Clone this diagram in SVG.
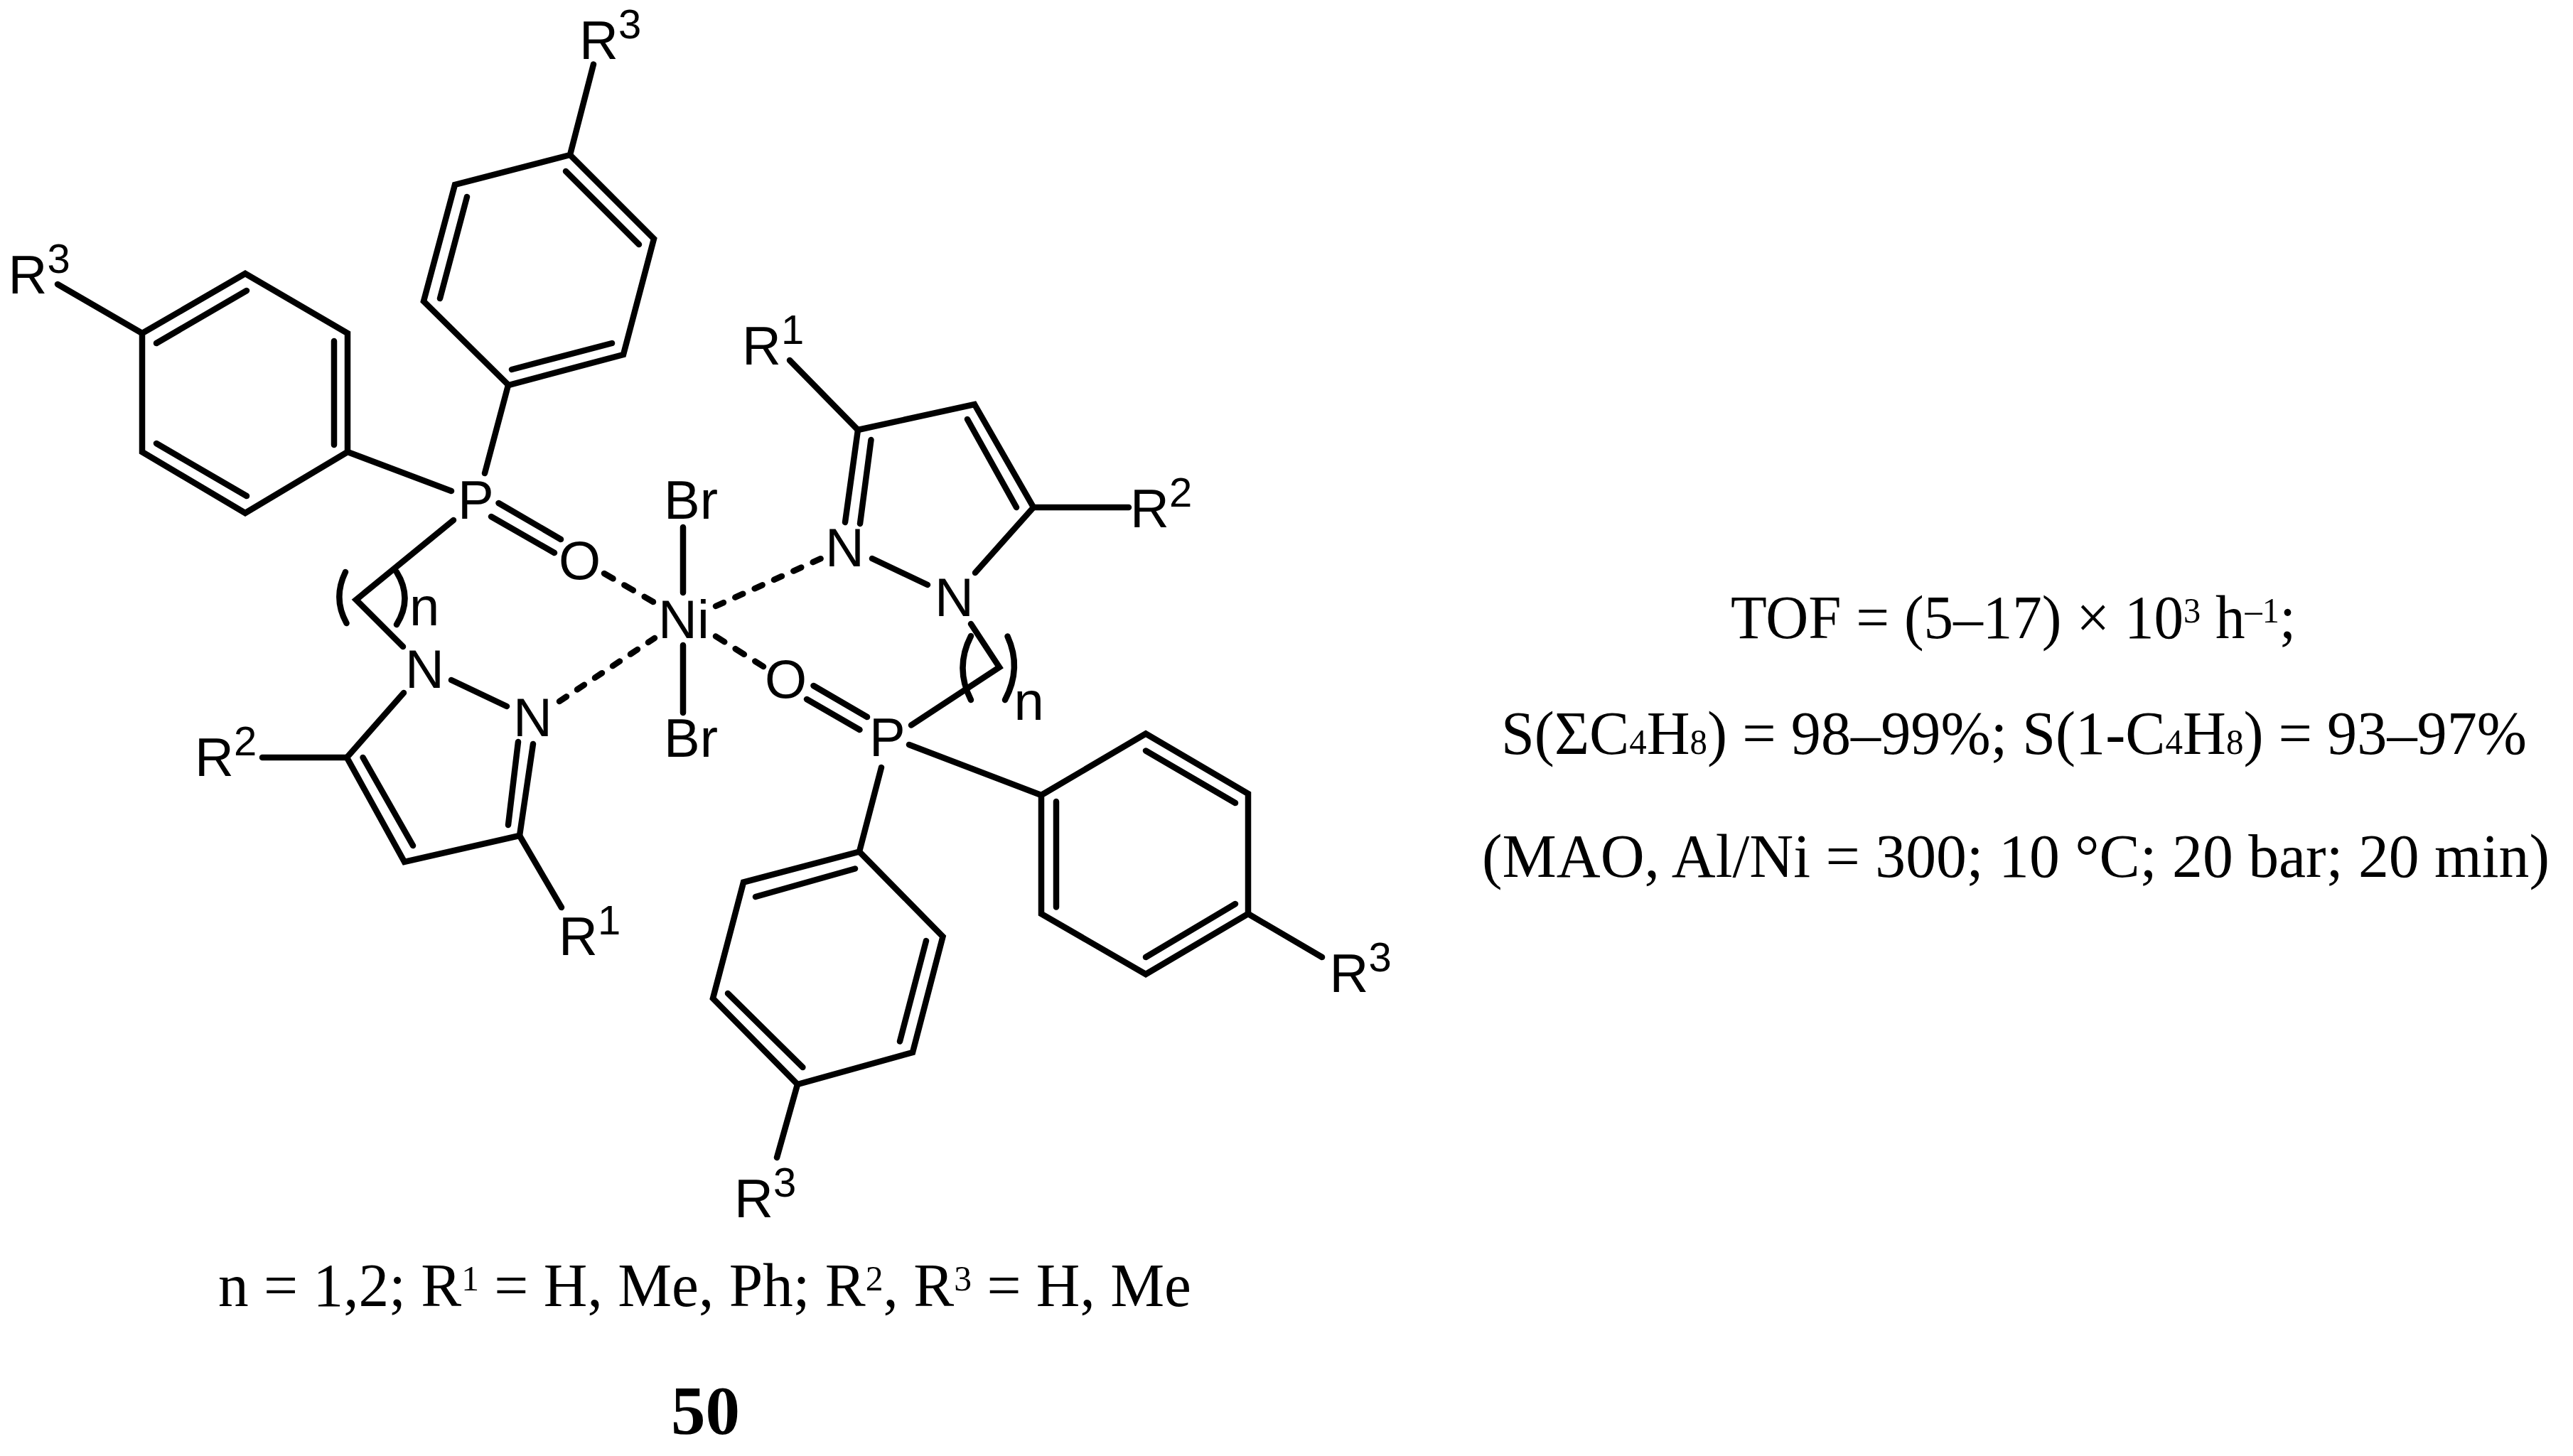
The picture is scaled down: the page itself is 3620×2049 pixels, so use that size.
<svg xmlns="http://www.w3.org/2000/svg" width="3620" height="2049" viewBox="0 0 3620 2049">
<style>
.b{stroke:#000;stroke-width:8.5;stroke-linecap:round;stroke-linejoin:miter;fill:none}
.d3{stroke-dasharray:14.5 18.25}
.d6{stroke-dasharray:12 18}
.a{font-family:"Liberation Sans",Arial,sans-serif;font-size:76px;fill:#000}
.s{font-size:58px}
.t{font-family:"Liberation Serif","Times New Roman",serif;font-size:86px;fill:#000}
.m{font-size:50px}
.l{font-family:"Liberation Serif","Times New Roman",serif;font-size:97px;font-weight:bold;fill:#000}
</style>
<rect width="3620" height="2049" fill="#fff"/>
<g id="connectors" class="b">
<path class="b" d="M835 90.5L802 218L920 336L877 499L715.5 542L596 424L640 260L802 218"/>
<path class="b" d="M796 241L899 344M861 483L720 520M657 277L619 420M715 542L682 666"/>
<path class="b" d="M345 385L489 469L489 636L345 722L200 636L200 469Z"/>
<path class="b" d="M347 409L220 483M470 480L470 626M347 698L220 624M81 400L200 469M489 636L635 691"/>
<path class="b" d="M638 732L501 844L567 910"/>
<path class="b" d="M486 805Q468 842 487.5 877M558 805Q581 842 558 879"/>
<path class="b" d="M701.5 708L789 759M691 727L780 778"/>
<path class="b" d="M961 742V834M961 908V1003"/>
<path class="b d3" d="M850 807L919 847"/>
<path class="b d3" d="M1007 895.5L1074 938"/>
<path class="b d6" d="M1007 853L1155 786"/>
<path class="b d6" d="M787 987L921 898"/>
<path class="b" d="M635 957L713 994M568 975L488 1066L569 1213L731 1176L750 1047"/>
<path class="b" d="M369 1066H488M510.6 1066L581 1190M715 1161L729 1044M731 1176L790 1277"/>
<path class="b" d="M1111 507L1207 605L1371 569L1454 714L1372 806"/>
<path class="b" d="M1361 590L1430 714M1454 714H1588M1227 786L1305 823M1207 605L1189 735M1225.5 619L1210 737"/>
<path class="b" d="M1366 878L1406 939L1282 1020.5"/>
<path class="b" d="M1366 895Q1343 940 1366 985M1417.5 895.5Q1438 940 1414 985"/>
<path class="b" d="M1144.5 965L1220 1009M1135 984L1209.5 1027"/>
<path class="b" d="M1279 1048L1465 1119M1465 1119L1612 1032.5L1756 1117L1756 1286L1612 1371L1465 1286Z"/>
<path class="b" d="M1612 1056.5L1738 1130M1486 1128V1276.5M1738 1272L1612 1347M1756 1286L1860 1347"/>
<path class="b" d="M1240 1080L1209 1198.5L1046 1241.6L1003 1405L1122 1526L1284 1481L1326.5 1318L1209 1198.5"/>
<path class="b" d="M1203 1222.5L1063 1262M1024 1398L1129.4 1502M1303 1324L1266 1465.5M1122 1526L1093 1629"/>
</g>
<g id="atom-r3-top"><text class="a" x="815" y="83">R<tspan class="s" dy="-29">3</tspan></text></g>
<g id="atom-r3-left"><text class="a" x="11.5" y="413">R<tspan class="s" dy="-29">3</tspan></text></g>
<g id="atom-p-left"><text class="a" x="644" y="730">P</text></g>
<g id="atom-o-left"><text class="a" x="786" y="815">O</text></g>
<g id="atom-n-left"><text class="a" x="570" y="968">N</text></g>
<g id="atom-n2-left"><text class="a" x="722" y="1036">N</text></g>
<g id="label-n-left"><text class="a" x="576" y="880">n</text></g>
<g id="atom-r2-left"><text class="a" x="274" y="1092">R<tspan class="s" dy="-29">2</tspan></text></g>
<g id="atom-r1-lower"><text class="a" x="786" y="1344">R<tspan class="s" dy="-29">1</tspan></text></g>
<g id="atom-br-top"><text class="a" x="934" y="730">Br</text></g>
<g id="atom-ni"><text class="a" x="926" y="898">Ni</text></g>
<g id="atom-br-bottom"><text class="a" x="934" y="1065">Br</text></g>
<g id="atom-o-right"><text class="a" x="1076" y="982">O</text></g>
<g id="atom-p-right"><text class="a" x="1223" y="1064">P</text></g>
<g id="label-n-right"><text class="a" x="1426.5" y="1012.5">n</text></g>
<g id="atom-n-right"><text class="a" x="1161" y="797">N</text></g>
<g id="atom-n2-right"><text class="a" x="1315" y="866.5">N</text></g>
<g id="atom-r1-upper"><text class="a" x="1044" y="512.5">R<tspan class="s" dy="-29">1</tspan></text></g>
<g id="atom-r2-right"><text class="a" x="1590" y="741.5">R<tspan class="s" dy="-29">2</tspan></text></g>
<g id="atom-r3-right"><text class="a" x="1870.5" y="1396">R<tspan class="s" dy="-29">3</tspan></text></g>
<g id="atom-r3-bottom"><text class="a" x="1033" y="1713">R<tspan class="s" dy="-29">3</tspan></text></g>
<g id="caption-tof"><text class="t" x="2435" y="898" textLength="795" lengthAdjust="spacingAndGlyphs">TOF = (5–17) × 10<tspan class="m" dy="-22">3</tspan><tspan dy="22"> h</tspan><tspan class="m" dy="-22">–1</tspan><tspan dy="22">;</tspan></text></g>
<g id="caption-sel"><text class="t" x="2112" y="1061" textLength="1443" lengthAdjust="spacingAndGlyphs">S(ΣC<tspan class="m">4</tspan>H<tspan class="m">8</tspan>) = 98–99%; S(1-C<tspan class="m">4</tspan>H<tspan class="m">8</tspan>) = 93–97%</text></g>
<g id="caption-cond"><text class="t" x="2085" y="1234" textLength="1502" lengthAdjust="spacingAndGlyphs">(MAO, Al/Ni = 300; 10 °C; 20 bar; 20 min)</text></g>
<g id="caption-subst"><text class="t" x="307" y="1838" textLength="1369" lengthAdjust="spacingAndGlyphs">n = 1,2; R<tspan class="m" dy="-22">1</tspan><tspan dy="22"> = H, Me, Ph; R</tspan><tspan class="m" dy="-22">2</tspan><tspan dy="22">, R</tspan><tspan class="m" dy="-22">3</tspan><tspan dy="22"> = H, Me</tspan></text></g>
<g id="compound-number"><text class="l" x="944" y="2018">50</text></g>
</svg>
